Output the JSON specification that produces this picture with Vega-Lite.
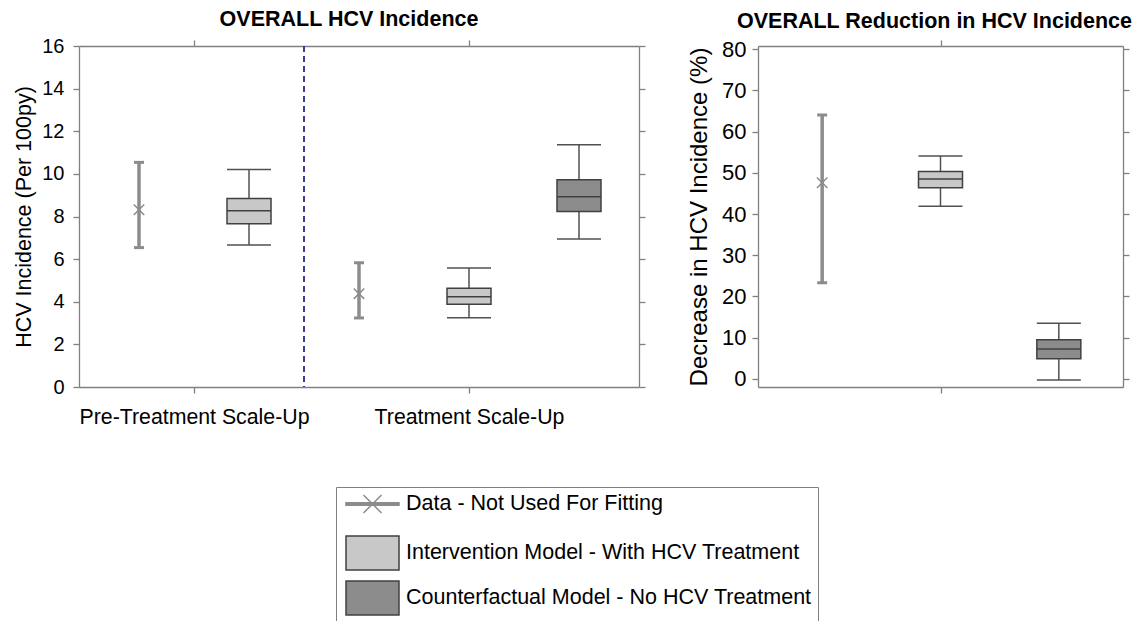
{
  "$schema": "https://vega.github.io/schema/vega-lite/v6.json",
  "padding": {"left": 13, "top": 8, "right": 0, "bottom": 0},
  "background": "white",
  "config": {
    "font": "Liberation Sans",
    "view": {"stroke": null},
    "axis": {
      "domainColor": "#808080", "domainWidth": 1.3, "tickColor": "#808080", "tickWidth": 1.3, "tickSize": 6,
      "grid": false, "labelColor": "#000", "labelFont": "Liberation Sans", "titleFont": "Liberation Sans",
      "titleFontWeight": "normal", "titleColor": "#000", "labelFlush": false, "labelOverlap": false, "labelLimit": 500
    },
    "title": {"font": "Liberation Sans", "fontWeight": "bold", "fontSize": 21.5, "color": "#000"}
  },
  "datasets": {
    "inc": [
      {"period": "Pre-Treatment Scale-Up", "series": "Data - Not Used For Fitting", "pos": 0.5, "lo": 6.54, "mid": 8.32, "hi": 10.54},
      {"period": "Pre-Treatment Scale-Up", "series": "Intervention Model - With HCV Treatment", "pos": 1.5, "wlo": 6.66, "q1": 7.66, "med": 8.27, "q3": 8.84, "whi": 10.2},
      {"period": "Treatment Scale-Up", "series": "Data - Not Used For Fitting", "pos": 2.5, "lo": 3.24, "mid": 4.38, "hi": 5.83},
      {"period": "Treatment Scale-Up", "series": "Intervention Model - With HCV Treatment", "pos": 3.5, "wlo": 3.25, "q1": 3.88, "med": 4.24, "q3": 4.63, "whi": 5.58},
      {"period": "Treatment Scale-Up", "series": "Counterfactual Model - No HCV Treatment", "pos": 4.5, "wlo": 6.94, "q1": 8.23, "med": 8.93, "q3": 9.73, "whi": 11.37}
    ],
    "red": [
      {"series": "Data - Not Used For Fitting", "pos": 0.5, "lo": 23.3, "mid": 47.6, "hi": 64.05},
      {"series": "Intervention Model - With HCV Treatment", "pos": 1.5, "wlo": 41.9, "q1": 46.4, "med": 48.5, "q3": 50.3, "whi": 54.1},
      {"series": "Counterfactual Model - No HCV Treatment", "pos": 2.5, "wlo": -0.3, "q1": 4.86, "med": 7.2, "q3": 9.5, "whi": 13.5}
    ]
  },
  "spacing": 41,
  "hconcat": [
    {
      "width": 560, "height": 341,
      "title": {"text": "OVERALL HCV Incidence", "frame": "group", "baseline": "alphabetic", "offset": -11, "dx": -10},
      "data": {"name": "inc"},
      "resolve": {"axis": {"x": "independent", "y": "independent"}},
      "layer": [
        {
          "data": {"values": [{"split": 2}]},
          "mark": {"type": "rule", "color": "#3c3c96", "strokeDash": [6, 4], "strokeWidth": 2},
          "encoding": {
            "x": {"field": "split", "type": "quantitative", "scale": {"domain": [0, 5], "nice": false, "zero": false}, "axis": null}
          }
        },
        {
          "transform": [{"filter": "datum.series !== 'Data - Not Used For Fitting'"}],
          "mark": {"type": "rule", "color": "#505050", "strokeWidth": 1.5},
          "encoding": {
            "x": {"field": "pos", "type": "quantitative", "scale": {"domain": [0, 5], "nice": false, "zero": false},
                  "axis": {"orient": "bottom", "values": [1, 3.5], "labelExpr": "datum.value == 1 ? 'Pre-Treatment Scale-Up' : 'Treatment Scale-Up'", "labelFontSize": 21.3, "labelPadding": 13, "title": null}},
            "y": {"field": "wlo", "type": "quantitative", "scale": {"domain": [0, 16], "nice": false, "zero": false},
                  "axis": {"orient": "left", "values": [0, 2, 4, 6, 8, 10, 12, 14, 16], "labelFontSize": 20, "labelPadding": 9, "title": "HCV Incidence (Per 100py)", "titleFontSize": 21.5, "titlePadding": 6}},
            "y2": {"field": "whi"}
          }
        },
        {
          "transform": [{"filter": "datum.series !== 'Data - Not Used For Fitting'"}, {"fold": ["wlo", "whi"], "as": ["end", "val"]}],
          "mark": {"type": "tick", "orient": "horizontal", "size": 44, "thickness": 1.5, "color": "#505050", "opacity": 1},
          "encoding": {
            "x": {"field": "pos", "type": "quantitative", "axis": null},
            "y": {"field": "val", "type": "quantitative", "axis": null}
          }
        },
        {
          "transform": [{"filter": "datum.series !== 'Data - Not Used For Fitting'"}],
          "mark": {"type": "bar", "size": 44, "strokeWidth": 1.5},
          "encoding": {
            "x": {"field": "pos", "type": "quantitative", "axis": null},
            "y": {"field": "q1", "type": "quantitative", "axis": null},
            "y2": {"field": "q3"},
            "fill": {
              "field": "series", "type": "nominal",
              "scale": {"domain": ["Data - Not Used For Fitting", "Intervention Model - With HCV Treatment", "Counterfactual Model - No HCV Treatment"], "range": ["#8c8c8c", "#c8c8c8", "#8c8c8c"]},
              "legend": {
                "title": null, "orient": "none", "legendX": 257, "legendY": 441, "direction": "vertical",
                "labelFontSize": 21.5, "labelFont": "Liberation Sans", "labelColor": "#000", "labelLimit": 700,
                "symbolSize": 400, "symbolStrokeWidth": 1.5, "symbolOpacity": 1, "labelOffset": 42, "rowPadding": 5, "padding": 6,
                "strokeColor": "#808080", "fillColor": "#ffffff",
                "symbolType": {"expr": "datum.value === 'Data - Not Used For Fitting' ? 'M-0.7,-0.13H4.6V0.13H-0.7Z M1.05,-0.9L2.85,0.9 M1.05,0.9L2.85,-0.9 M1.95,2.1' : 'M-0.7,-1.7H4.6V1.7H-0.7Z'"}
              }
            },
            "stroke": {
              "field": "series", "type": "nominal",
              "scale": {"domain": ["Data - Not Used For Fitting", "Intervention Model - With HCV Treatment", "Counterfactual Model - No HCV Treatment"], "range": ["#8c8c8c", "#404040", "#404040"]},
              "legend": {
                "title": null, "orient": "none", "legendX": 257, "legendY": 441, "direction": "vertical",
                "labelFontSize": 21.5, "labelFont": "Liberation Sans", "labelColor": "#000", "labelLimit": 700,
                "symbolSize": 400, "symbolStrokeWidth": 1.5, "symbolOpacity": 1, "labelOffset": 42, "rowPadding": 5, "padding": 6,
                "strokeColor": "#808080", "fillColor": "#ffffff",
                "symbolType": {"expr": "datum.value === 'Data - Not Used For Fitting' ? 'M-0.7,-0.13H4.6V0.13H-0.7Z M1.05,-0.9L2.85,0.9 M1.05,0.9L2.85,-0.9 M1.95,2.1' : 'M-0.7,-1.7H4.6V1.7H-0.7Z'"}
              }
            }
          }
        },
        {
          "transform": [{"filter": "datum.series !== 'Data - Not Used For Fitting'"}],
          "mark": {"type": "tick", "orient": "horizontal", "size": 44, "thickness": 1.5, "color": "#404040", "opacity": 1},
          "encoding": {
            "x": {"field": "pos", "type": "quantitative", "scale": {"domain": [0, 5], "nice": false, "zero": false},
                  "axis": {"orient": "top", "values": [1, 3.5], "labels": false, "title": null}},
            "y": {"field": "med", "type": "quantitative", "scale": {"domain": [0, 16], "nice": false, "zero": false},
                  "axis": {"orient": "right", "values": [0, 2, 4, 6, 8, 10, 12, 14, 16], "labels": false, "title": null}}
          }
        },
        {
          "transform": [{"filter": "datum.series === 'Data - Not Used For Fitting'"}],
          "mark": {"type": "rule", "color": "#8c8c8c", "strokeWidth": 3.5},
          "encoding": {
            "x": {"field": "pos", "type": "quantitative", "axis": null},
            "y": {"field": "lo", "type": "quantitative", "axis": null},
            "y2": {"field": "hi"}
          }
        },
        {
          "transform": [{"filter": "datum.series === 'Data - Not Used For Fitting'"}, {"fold": ["lo", "hi"], "as": ["end", "val"]}],
          "mark": {"type": "tick", "orient": "horizontal", "size": 10, "thickness": 3, "color": "#8c8c8c", "opacity": 1},
          "encoding": {
            "x": {"field": "pos", "type": "quantitative", "axis": null},
            "y": {"field": "val", "type": "quantitative", "axis": null}
          }
        },
        {
          "transform": [{"filter": "datum.series === 'Data - Not Used For Fitting'"}],
          "mark": {"type": "point", "shape": "M-1,-1L1,1M-1,1L1,-1", "size": 110, "filled": false, "color": "#8c8c8c", "strokeWidth": 1.5, "opacity": 1},
          "encoding": {
            "x": {"field": "pos", "type": "quantitative", "axis": null},
            "y": {"field": "mid", "type": "quantitative", "axis": null}
          }
        }
      ]
    },
    {
      "width": 365, "height": 341,
      "title": {"text": "OVERALL Reduction in HCV Incidence", "frame": "group", "baseline": "alphabetic", "offset": -11, "dx": -6},
      "data": {"name": "red"},
      "resolve": {"axis": {"x": "independent", "y": "independent"}},
      "layer": [
        {
          "transform": [{"filter": "datum.series !== 'Data - Not Used For Fitting'"}],
          "mark": {"type": "rule", "color": "#505050", "strokeWidth": 1.5},
          "encoding": {
            "x": {"field": "pos", "type": "quantitative", "scale": {"domain": [0, 3], "nice": false, "zero": false},
                  "axis": {"orient": "bottom", "values": [1.5], "labels": false, "title": null}},
            "y": {"field": "wlo", "type": "quantitative", "scale": {"domain": [-2, 80.8], "nice": false, "zero": false},
                  "axis": {"orient": "left", "values": [0, 10, 20, 30, 40, 50, 60, 70, 80], "labelFontSize": 22, "labelPadding": 6, "title": "Decrease in HCV Incidence (%)", "titleFontSize": 24, "titlePadding": 10}},
            "y2": {"field": "whi"}
          }
        },
        {
          "transform": [{"filter": "datum.series !== 'Data - Not Used For Fitting'"}, {"fold": ["wlo", "whi"], "as": ["end", "val"]}],
          "mark": {"type": "tick", "orient": "horizontal", "size": 44, "thickness": 1.5, "color": "#505050", "opacity": 1},
          "encoding": {
            "x": {"field": "pos", "type": "quantitative", "axis": null},
            "y": {"field": "val", "type": "quantitative", "axis": null}
          }
        },
        {
          "transform": [{"filter": "datum.series !== 'Data - Not Used For Fitting'"}],
          "mark": {"type": "bar", "size": 44, "stroke": "#404040", "strokeWidth": 1.5},
          "encoding": {
            "x": {"field": "pos", "type": "quantitative", "axis": null},
            "y": {"field": "q1", "type": "quantitative", "axis": null},
            "y2": {"field": "q3"},
            "fill": {
              "condition": {"test": "datum.series === 'Counterfactual Model - No HCV Treatment'", "value": "#8c8c8c"},
              "value": "#c8c8c8"
            }
          }
        },
        {
          "transform": [{"filter": "datum.series !== 'Data - Not Used For Fitting'"}],
          "mark": {"type": "tick", "orient": "horizontal", "size": 44, "thickness": 1.5, "color": "#404040", "opacity": 1},
          "encoding": {
            "x": {"field": "pos", "type": "quantitative", "scale": {"domain": [0, 3], "nice": false, "zero": false},
                  "axis": {"orient": "top", "values": [1.5], "labels": false, "title": null}},
            "y": {"field": "med", "type": "quantitative", "scale": {"domain": [-2, 80.8], "nice": false, "zero": false},
                  "axis": {"orient": "right", "values": [0, 10, 20, 30, 40, 50, 60, 70, 80], "labels": false, "title": null}}
          }
        },
        {
          "transform": [{"filter": "datum.series === 'Data - Not Used For Fitting'"}],
          "mark": {"type": "rule", "color": "#8c8c8c", "strokeWidth": 3.5},
          "encoding": {
            "x": {"field": "pos", "type": "quantitative", "axis": null},
            "y": {"field": "lo", "type": "quantitative", "axis": null},
            "y2": {"field": "hi"}
          }
        },
        {
          "transform": [{"filter": "datum.series === 'Data - Not Used For Fitting'"}, {"fold": ["lo", "hi"], "as": ["end", "val"]}],
          "mark": {"type": "tick", "orient": "horizontal", "size": 10, "thickness": 3, "color": "#8c8c8c", "opacity": 1},
          "encoding": {
            "x": {"field": "pos", "type": "quantitative", "axis": null},
            "y": {"field": "val", "type": "quantitative", "axis": null}
          }
        },
        {
          "transform": [{"filter": "datum.series === 'Data - Not Used For Fitting'"}],
          "mark": {"type": "point", "shape": "M-1,-1L1,1M-1,1L1,-1", "size": 110, "filled": false, "color": "#8c8c8c", "strokeWidth": 1.5, "opacity": 1},
          "encoding": {
            "x": {"field": "pos", "type": "quantitative", "axis": null},
            "y": {"field": "mid", "type": "quantitative", "axis": null}
          }
        }
      ]
    }
  ]
}
